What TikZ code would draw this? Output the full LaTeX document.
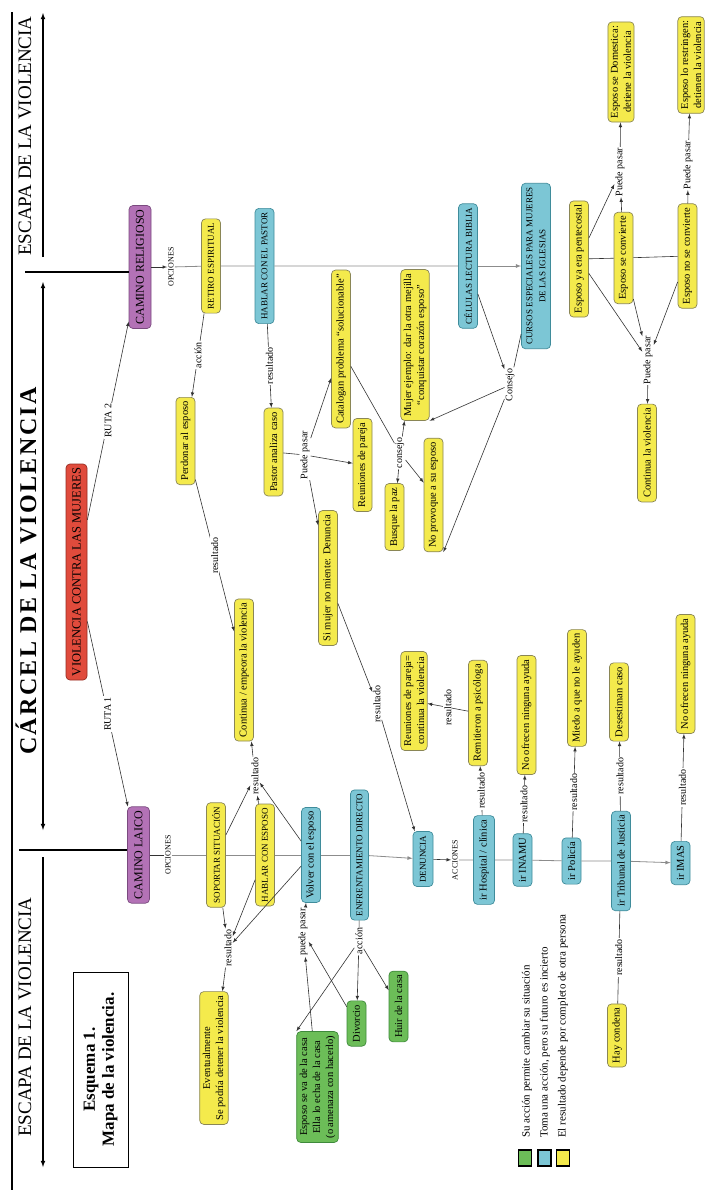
\documentclass[tikz,border=0pt]{standalone}
\usepackage{fontspec}
\setmainfont{Liberation Serif}
\newfontfamily\carcelfont[LetterSpace=10]{Liberation Serif}
\usepackage{xcolor}
\definecolor{am1}{HTML}{F4EA4C}
\definecolor{am2}{HTML}{8A8656}
\definecolor{az1}{HTML}{7CC6D5}
\definecolor{az2}{HTML}{3F8C9B}
\definecolor{ve1}{HTML}{6CBD58}
\definecolor{ve2}{HTML}{3E8A3B}
\definecolor{mo1}{HTML}{B372B6}
\definecolor{mo2}{HTML}{7A4A7F}
\definecolor{ro1}{HTML}{E04B3C}
\definecolor{ro2}{HTML}{962C22}
\usetikzlibrary{arrows}

\begin{document}
\begin{tikzpicture}[x=1pt,y=-1pt,
  caja/.style={rotate=90, draw, rounded corners=4pt, line width=0.7pt, minimum height=19pt, inner xsep=4pt, inner ysep=3pt, align=center, font=\fontsize{10.5}{13}\selectfont},
  amarillo/.style={caja, fill=am1, draw=am2},
  azul/.style={caja, fill=az1, draw=az2},
  verde/.style={caja, fill=ve1, draw=ve2},
  morado/.style={caja, fill=mo1, draw=mo2, minimum height=22pt, font=\fontsize{12}{13}\selectfont},
  mayus/.style={font=\fontsize{9}{13}\selectfont},
  etiq/.style={rotate=90, fill=white, inner sep=1pt, font=\fontsize{10}{11}\selectfont},
  flecha/.style={-latex, draw=black!80, line width=0.6pt},
  linea/.style={draw=black!80, line width=0.6pt},
  eje/.style={draw=black!45, line width=0.8pt},
  grande/.style={-latex, line width=1.1pt}]
  \fill[white] (0,0) rectangle (720,1200);
  \useasboundingbox (0,0) rectangle (720,1200);

  % marco de la izquierda
  \coordinate (borde1) at (12,12);
  \coordinate (borde2) at (12,1190);
  \draw[line width=1.1pt] (borde1) -- (borde2);
  \node[rotate=90, font=\fontsize{19}{20}\selectfont] (esc1) at (25,136) {ESCAPA DE LA VIOLENCIA};
  \node[rotate=90, font=\carcelfont\bfseries\fontsize{24}{26}\selectfont] (carcel) at (26,571) {CÁRCEL DE LA VIOLENCIA};
  \node[rotate=90, font=\fontsize{19}{20}\selectfont] (esc2) at (25,1017) {ESCAPA DE LA VIOLENCIA};
  \coordinate (esc1a) at (43,257); \coordinate (esc1b) at (43,13);
  \coordinate (car1) at (43,282);  \coordinate (car2) at (43,830);
  \coordinate (esc2a) at (43,857); \coordinate (esc2b) at (43,1167);
  \draw[grande] (esc1a) -- (esc1b);
  \draw[grande, latex-latex] (car1) -- (car2);
  \draw[grande] (esc2a) -- (esc2b);
  \node[rotate=90, draw, line width=0.8pt, minimum width=195pt, minimum height=55pt, align=center, font=\fontsize{17}{19}\selectfont\bfseries] (esquema) at (100.5,1069.5) {Esquema 1.\\Mapa de la violencia.};

  % nodos principales
  \node[caja, fill=ro1, draw=ro2, minimum height=21pt, font=\fontsize{12.5}{14}\selectfont] (viol) at (76.5,572) {VIOLENCIA CONTRA LAS MUJERES};
  \node[morado] (camrel) at (140,267) {CAMINO RELIGIOSO};
  \node[morado] (camlai) at (138.5,855) {CAMINO LAICO};
  \coordinate (sep1) at (25,272);
  \coordinate (sep2) at (19,850);
  \draw[line width=1.1pt] (sep1) -- (sep1 -| camrel.north);
  \draw[line width=1.1pt] (sep2) -- (sep2 -| camlai.north);

  % camino religioso
  \node[etiq, font=\fontsize{8}{9}\selectfont] (oprel) at (171,267) {OPCIONES};
  \node[amarillo, mayus] (retiro) at (211,266) {RETIRO ESPIRITUAL};
  \node[azul, mayus] (pastor) at (264.5,266) {HABLAR CON EL PASTOR};
  \node[azul, mayus] (celulas) at (468,266) {CÉLULAS LECTURA BIBLIA};
  \node[azul, mayus, inner ysep=5pt] (cursos) at (536,266) {CURSOS ESPECIALES PARA MUJERES\\DE LAS IGLESIAS};
  \node[amarillo] (perdonar) at (185.5,441) {Perdonar al esposo};
  \node[amarillo] (continua) at (244,670) {Continua / empeora la violencia};
  \node[amarillo] (analiza) at (273.5,452) {Pastor analiza caso};
  \node[amarillo] (catalogan) at (341,349) {Catalogan problema “solucionable”};
  \node[amarillo] (reuniones) at (362.5,465) {Reuniones de pareja};
  \node[amarillo] (simujer) at (328,578) {Si mujer no miente: Denuncia};
  \node[amarillo] (mujer) at (415,345) {Mujer ejemplo: dar la otra mejilla\\“conquistar corazón esposo”};
  \node[amarillo] (busque) at (394.5,517) {Busque la paz};
  \node[amarillo] (noprov) at (433.5,495) {No provoque a su esposo};
  \node[amarillo] (penteco) at (579,259) {Esposo ya era pentecostal};
  \node[amarillo] (convierte) at (623.5,258) {Esposo se convierte};
  \node[amarillo] (noconv) at (687.5,256) {Esposo no se convierte};
  \node[amarillo] (domestica) at (621,72) {Esposo se Domestica:\\detiene la violencia};
  \node[amarillo] (restringen) at (691,65) {Esposo lo restringen:\\detienen la violencia};
  \node[amarillo] (contviol) at (647,453) {Continua la violencia};
  \node[etiq] (pp1) at (305,455) {Puede pasar};
  \node[etiq] (cons1) at (400,453) {consejo};
  \node[etiq] (cons2) at (510,385) {Consejo};
  \node[etiq] (res3) at (377,704) {resultado};
  \node[etiq] (pp4) at (648,360) {Puede pasar};
  \node[etiq] (pp5) at (620,172) {Puede pasar};
  \node[etiq] (pp6) at (688,165) {Puede pasar};

  % camino laico
  \node[etiq, font=\fontsize{8}{9}\selectfont] (oplai) at (168,855) {OPCIONES};
  \node[amarillo, mayus] (soportar) at (216,855) {SOPORTAR SITUACIÓN};
  \node[amarillo, mayus] (hablaresp) at (265,855) {HABLAR CON ESPOSO};
  \node[azul] (volver) at (311,855) {Volver con el esposo};
  \node[azul, mayus, minimum height=18pt] (enfrent) at (359.5,855) {ENFRENTAMIENTO DIRECTO};
  \node[azul, mayus, minimum height=20pt] (denuncia) at (423,859) {DENUNCIA};
  \node[etiq, font=\fontsize{8}{9}\selectfont] (acc) at (455,860) {ACCIONES};
  \node[azul, minimum height=21pt] (hospital) at (484,860) {ir Hospital / clínica};
  \node[azul] (inamu) at (522.5,860) {ir INAMU};
  \node[azul] (policia) at (571.5,861) {ir Policía};
  \node[azul] (tribunal) at (621,861) {ir Tribunal de Justicia};
  \node[azul] (imas) at (680.5,863) {ir IMAS};
  \node[amarillo] (reupar) at (414,701) {Reuniones de pareja=\\continua la violencia};
  \node[amarillo] (remit) at (478,713) {Remitieron a psicóloga};
  \node[amarillo] (noayuda1) at (526.5,715) {No ofrecen ninguna ayuda};
  \node[amarillo] (miedo) at (577,688) {Miedo a que no le ayuden};
  \node[amarillo] (desest) at (619,702) {Desestiman caso};
  \node[amarillo] (noayuda2) at (685.5,674) {No ofrecen ninguna ayuda};
  \node[amarillo] (condena) at (617,1035.5) {Hay condena};
  \node[amarillo] (eventual) at (214,1058) {Eventualmente\\Se podría detener la violencia};
  \node[verde] (seva) at (317.5,1087) {Esposo se va de la casa\\Ella lo echa de la casa\\(o amenaza con hacerlo)};
  \node[verde] (divorcio) at (356.5,1023.5) {Divorcio};
  \node[verde] (huir) at (398.5,1006.5) {Huir de la casa};
  \node[etiq] (res1) at (255,776) {resultado};
  \node[etiq] (res2) at (228,948) {resultado};
  \node[etiq] (lacc2) at (359,941) {acción};
  \node[etiq] (pp3) at (303,932) {puede pasar};

  % rutas
  \draw[flecha] (viol) -- node[etiq]{RUTA 2} (camrel);
  \draw[flecha] (viol) -- node[etiq]{RUTA 1} (camlai);

  % conectores religioso
  \draw[flecha] (camrel) -- (oprel);
  \draw[eje] (oprel) -- (retiro) -- (pastor) -- (celulas);
  \draw[eje, -latex] (celulas) -- (cursos);
  \draw[flecha] (retiro) -- node[etiq]{acción} (perdonar);
  \draw[flecha] (perdonar) -- node[etiq]{resultado} (continua);
  \draw[flecha] (pastor) -- node[etiq]{resultado} (analiza);
  \draw[linea] (analiza) -- (pp1);
  \foreach \n in {catalogan,reuniones,simujer} \draw[flecha] (pp1) -- (\n);
  \draw[linea] (catalogan) -- (cons1);
  \foreach \n in {mujer,busque,noprov} \draw[flecha] (cons1) -- (\n);
  \draw[flecha] (celulas) -- (cons2);
  \draw[linea] (cursos) -- (cons2);
  \draw[flecha] (cons2) -- (mujer.south west);
  \draw[flecha] (cons2) -- (noprov.south west);
  \draw[flecha] (simujer) -- (res3);
  \draw[flecha] (res3) -- (denuncia);
  \draw[linea] (penteco) -- (convierte) -- (noconv);
  \foreach \n in {penteco,convierte,noconv} \draw[flecha] (\n) -- (pp4);
  \draw[flecha] (pp4) -- (contviol);
  \draw[flecha] (convierte) -- (pp5);
  \draw[flecha] (penteco) -- (pp5);
  \draw[flecha] (pp5) -- (domestica);
  \draw[flecha] (noconv) -- (pp6);
  \draw[flecha] (pp6) -- (restringen);

  % conectores laico
  \draw[linea] (camlai) -- (oplai);
  \draw[eje] (oplai) -- (soportar) -- (hablaresp) -- (volver) -- (enfrent);
  \draw[eje, -latex] (enfrent) -- (denuncia);
  \draw[flecha] (denuncia) -- (acc);
  \draw[eje] (acc) -- (hospital) -- (inamu) -- (policia) -- (tribunal);
  \draw[eje, -latex] (tribunal) -- (imas);
  \foreach \n in {soportar,hablaresp,volver} {
    \draw[flecha] (\n) -- (res1);
    \draw[flecha] (\n) -- (res2);
  }
  \draw[flecha] (res1) -- (continua);
  \draw[flecha] (res2) -- (eventual);
  \draw[linea] (enfrent) -- (lacc2);
  \draw[flecha] (lacc2) -- (divorcio);
  \draw[flecha] (lacc2) -- (huir);
  \draw[flecha] (lacc2) -- (seva.north east);
  \draw[flecha] (seva) -- (pp3);
  \draw[flecha] (divorcio) -- (pp3);
  \draw[flecha] (pp3) -- (volver);
  \draw[flecha] (hospital) -- node[etiq]{resultado} (remit);
  \draw[flecha] (remit) -- node[etiq]{resultado} (reupar);
  \draw[flecha] (inamu) -- node[etiq]{resultado} (noayuda1);
  \draw[flecha] (policia) -- node[etiq]{resultado} (miedo);
  \draw[flecha] (tribunal) -- node[etiq]{resultado} (desest);
  \draw[linea] (tribunal) -- node[etiq]{resultado} (condena);
  \draw[flecha] (imas) -- node[etiq]{resultado} (noayuda2);

  % leyenda
  \node[rotate=90, draw, line width=1.6pt, fill=ve1, minimum width=16pt, minimum height=13pt, inner sep=0pt] (leg1) at (525,1158) {};
  \node[rotate=90, draw, line width=1.6pt, fill=az1, minimum width=16pt, minimum height=13pt, inner sep=0pt] (leg2) at (544.5,1158) {};
  \node[rotate=90, draw, line width=1.6pt, fill=am1, minimum width=16pt, minimum height=13pt, inner sep=0pt] (leg3) at (563,1158) {};
  \node[rotate=90, anchor=west, inner sep=0pt, font=\fontsize{11}{12}\selectfont] (legt1) at (527,1138) {Su acción permite cambiar su situación};
  \node[rotate=90, anchor=west, inner sep=0pt, font=\fontsize{11}{12}\selectfont] (legt2) at (545,1138) {Toma una acción, pero su futuro es incierto};
  \node[rotate=90, anchor=west, inner sep=0pt, font=\fontsize{11}{12}\selectfont] (legt3) at (563,1138) {El resultado depende por completo de otra persona};
\end{tikzpicture}
\end{document}
